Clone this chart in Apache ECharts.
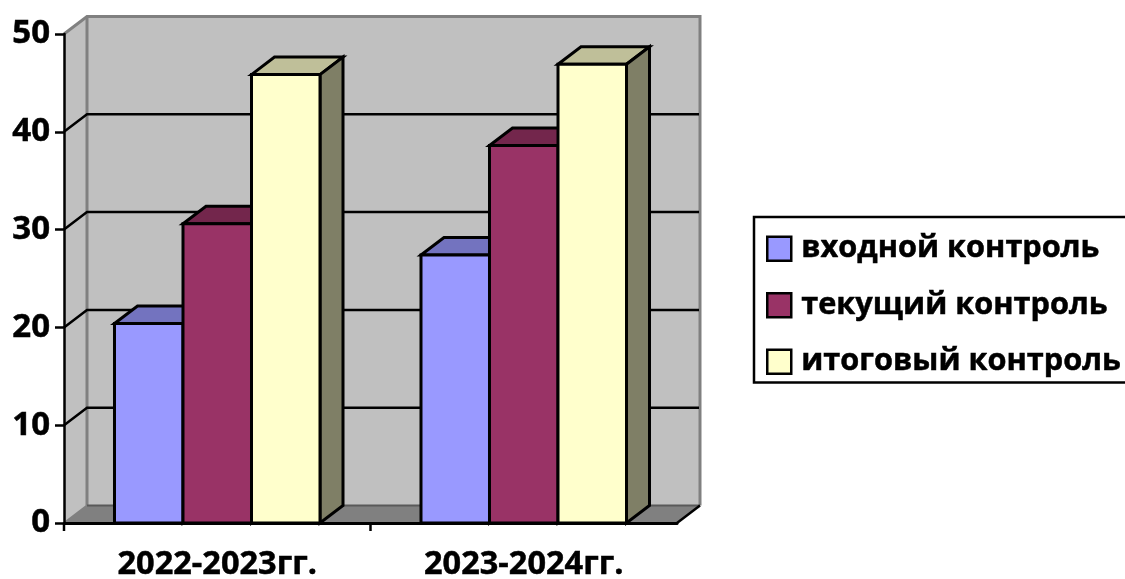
<!DOCTYPE html>
<html><head><meta charset="utf-8">
<style>html,body{margin:0;padding:0;background:#fff;overflow:hidden}#c{width:1125px;height:579px}</style>
<script src="https://cdn.jsdelivr.net/npm/echarts@6/dist/echarts.min.js"></script>
</head><body><div id="c"></div>
<script>
const categories = ['2022-2023гг.', '2023-2024гг.'];
const seriesNames = ['входной контроль', 'текущий контроль', 'итоговый контроль'];
const entryControl = [20.4, 27.4];
const currentControl = [30.6, 38.6];
const finalControl = [45.85, 46.9];
const yTicks = [0, 10, 20, 30, 40, 50];

const FONT = '"Open Sans","Noto Sans",sans-serif';
const DX = 23, DY = 17.5, LW = 3, GLW = 2.5, BAR_FRAC = 0.2235;
const front = ['#9999ff', '#993366', '#ffffcc'];
const top_ = ['#7373bf', '#73264c', '#bfbf99'];
const side = ['#4c4c7f', '#4c1933', '#7f7f66'];
const wallC = '#c0c0c0', floorC = '#808080', wallEdge = '#808080';
const heavy = {textBorderColor: '#000', textBorderWidth: 0.5};

const chart = echarts.init(document.getElementById('c'), null, {renderer: 'canvas'});

function wallsRender(params, api) {
  const band = api.size([1, 0])[0];
  const x0 = api.coord([0, 0])[0] - band / 2;
  const x1 = x0 + band * categories.length;
  const y0 = api.coord([0, 0])[1];
  const yT = api.coord([0, yTicks[yTicks.length - 1]])[1];
  const kids = [];
  const poly = (pts, fill) => ({type: 'polygon', shape: {points: pts}, style: {fill: fill, stroke: null}});
  const line = (pts, c, lw) => ({type: 'polyline', shape: {points: pts}, style: {fill: null, stroke: c, lineWidth: lw || GLW}});
  kids.push(poly([[x0 + DX, yT - DY], [x1 + DX, yT - DY], [x1 + DX, y0 - DY], [x0 + DX, y0 - DY]], wallC));
  kids.push(poly([[x0, yT], [x0 + DX, yT - DY], [x0 + DX, y0 - DY], [x0, y0]], wallC));
  kids.push(poly([[x0, y0], [x0 + DX, y0 - DY], [x1 + DX, y0 - DY], [x1, y0]], floorC));
  kids.push(line([[x0, yT], [x0 + DX, yT - DY], [x1 + DX, yT - DY], [x1 + DX, y0 - DY]], wallEdge, LW));
  kids.push(line([[x0 + DX, yT - DY], [x0 + DX, y0 - DY]], wallEdge, LW));
  kids.push(line([[x0, y0], [x0 + DX, y0 - DY]], wallEdge, 2));
  kids.push(line([[x0 + DX, y0 - DY], [x1 + DX, y0 - DY]], '#595959', 2));
  yTicks.slice(1, -1).forEach(v => {
    const y = api.coord([0, v])[1];
    kids.push(line([[x0, y], [x0 + DX, y - DY], [x1 + DX - 1, y - DY]], '#000'));
  });
  kids.push(line([[x1, y0], [x1 + DX, y0 - DY]], '#000'));
  for (let i = 0; i < categories.length; i++) {
    const x = x0 + band * i;
    kids.push(line([[x, y0], [x, y0 + 8]], '#000'));
  }
  return {type: 'group', children: kids};
}

function barRender(idx) {
  return function (params, api) {
    const c = api.value(0), v = api.value(1);
    const band = api.size([1, 0])[0];
    const w = band * BAR_FRAC;
    const p = api.coord([c, v]);
    const b = api.coord([c, 0]);
    const l = p[0] + (idx - 1.5) * w, r = l + w, t = p[1], y0 = b[1];
    const st = f => ({fill: f, stroke: '#000', lineWidth: LW, lineJoin: 'miter'});
    return {type: 'group', children: [
      {type: 'polygon', shape: {points: [[l, t], [l + DX, t - DY], [r + DX, t - DY], [r, t]]}, style: st(top_[idx])},
      {type: 'polygon', shape: {points: [[r, t], [r + DX, t - DY], [r + DX, y0 - DY], [r, y0]]}, style: st(side[idx])},
      {type: 'rect', shape: {x: l, y: t, width: w, height: y0 - t}, style: st(front[idx])}
    ]};
  };
}

const values = [entryControl, currentControl, finalControl];
const series = [{
  type: 'custom', name: 'стены', silent: true, clip: false, data: [[0, 0]],
  renderItem: wallsRender, encode: {x: 0, y: 1}
}];
seriesNames.forEach((n, i) => series.push({
  type: 'custom', name: n, clip: false, silent: true,
  itemStyle: {color: front[i]},
  data: values[i].map((v, c) => [c, v]),
  encode: {x: 0, y: 1},
  renderItem: barRender(i)
}));

chart.setOption({
  animation: false,
  backgroundColor: '#fff',
  tooltip: {show: false},
  grid: {left: 64, right: 448, top: 34, bottom: 56, containLabel: false, outerBoundsMode: 'none'},
  xAxis: {
    type: 'category', data: categories, z: 5,
    axisLine: {show: true, lineStyle: {color: '#000', width: 3}},
    axisTick: {show: false},
    axisLabel: Object.assign({color: '#000', fontFamily: FONT, fontWeight: 'bold', fontSize: 32.5, margin: 25, interval: 0}, heavy)
  },
  yAxis: {
    type: 'value', min: 0, max: 50, interval: 10, z: 5,
    axisLine: {show: true, lineStyle: {color: '#000', width: 2.5}},
    axisTick: {show: true, length: 9, lineStyle: {color: '#000', width: 2.5}},
    splitLine: {show: false},
    axisLabel: Object.assign({color: '#000', fontFamily: FONT, fontWeight: 'bold', fontSize: 33, margin: 14, padding: [4, 0, 0, 0]}, heavy)
  },
  legend: {
    data: seriesNames, orient: 'vertical', left: 754, top: 217,
    backgroundColor: '#fff', borderColor: '#000', borderWidth: 2.5, borderRadius: 0,
    padding: [16, 30, 5, 12], itemGap: 25, itemWidth: 24, itemHeight: 24,
    icon: 'rect', selectedMode: false,
    itemStyle: {borderColor: '#000', borderWidth: 2.5},
    textStyle: Object.assign({color: '#000', fontFamily: FONT, fontWeight: 'bold', fontSize: 30.7, padding: [0, 0, 0, 5]}, heavy)
  },
  series: series
});
</script></body></html>
